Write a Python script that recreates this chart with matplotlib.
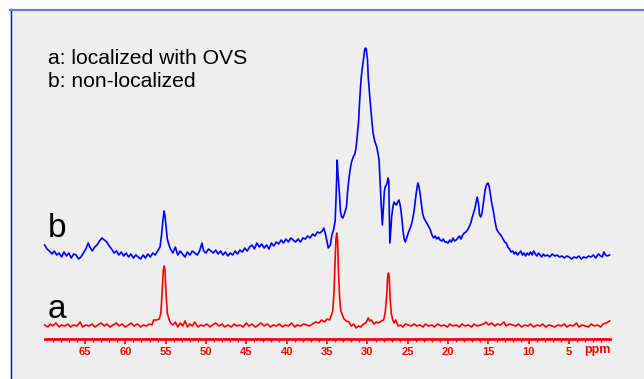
import numpy as np
import matplotlib
matplotlib.use("Agg")
import matplotlib.pyplot as plt
from matplotlib.patches import Rectangle
from matplotlib.lines import Line2D

plt.rcParams['font.family'] = ['Liberation Sans', 'DejaVu Sans']

# spectrum a: localized with OVS (chemical shift in ppm, height above the axis)
a_ppm = [70.0, 69.6, 69.3, 69.0, 68.6, 68.2, 67.9, 67.5, 67.1, 66.8, 66.4, 66.0, 65.6, 65.3, 64.9,
         64.5, 64.1, 63.8, 63.4, 63.0, 62.6, 62.3, 61.9, 61.5, 61.1, 60.8, 60.4, 60.0, 59.6, 59.3,
         58.9, 58.5, 58.1, 57.8, 57.4, 57.0, 56.7, 56.5, 56.1, 55.8, 55.6, 55.45, 55.3, 55.2, 55.1,
         54.95, 54.8, 54.6, 54.4, 54.1, 53.8, 53.5, 53.2, 52.9, 52.6, 52.3, 52.0, 51.7, 51.4, 51.0,
         50.7, 50.3, 49.9, 49.5, 49.2, 48.8, 48.4, 48.0, 47.7, 47.3, 46.9, 46.5, 46.2, 45.8, 45.4,
         45.0, 44.7, 44.3, 43.9, 43.5, 43.2, 42.8, 42.4, 42.0, 41.7, 41.3, 40.9, 40.5, 40.2, 39.8,
         39.4, 39.0, 38.7, 38.3, 37.9, 37.5, 37.2, 36.8, 36.4, 36.0, 35.7, 35.3, 35.0, 34.7, 34.5,
         34.3, 34.15, 34.0, 33.9, 33.8, 33.7, 33.6, 33.45, 33.3, 33.1, 32.9, 32.6, 32.3, 32.0, 31.7,
         31.4, 31.1, 30.8, 30.5, 30.2, 29.9, 29.7, 29.5, 29.2, 28.9, 28.6, 28.3, 28.0, 27.8, 27.6,
         27.5, 27.4, 27.3, 27.2, 27.05, 26.9, 26.7, 26.5, 26.2, 25.9, 25.6, 25.3, 24.9, 24.6, 24.2,
         23.9, 23.5, 23.1, 22.8, 22.4, 22.0, 21.7, 21.3, 20.9, 20.5, 20.1, 19.8, 19.4, 19.0, 18.6,
         18.3, 17.9, 17.5, 17.1, 16.8, 16.4, 16.0, 15.6, 15.3, 15.0, 14.6, 14.2, 13.9, 13.5, 13.1,
         12.8, 12.4, 12.0, 11.6, 11.3, 10.9, 10.5, 10.1, 9.8, 9.4, 9.0, 8.6, 8.3, 7.9, 7.5,
         7.1, 6.8, 6.4, 6.0, 5.6, 5.3, 4.9, 4.5, 4.1, 3.8, 3.4, 3.0, 2.6, 2.3, 1.9,
         1.5, 1.1, 0.8, 0.4, 0.0]
a_int = [14, 12, 15, 13, 16, 12, 14, 13, 15, 12, 14, 13, 17, 12, 14,
         13, 15, 12, 14, 16, 13, 15, 12, 14, 16, 13, 15, 12, 14, 16,
         13, 15, 12, 14, 13, 15, 14, 19, 19, 20, 26, 45, 68, 73, 70,
         45, 26, 20, 16, 14, 17, 12, 16, 13, 18, 12, 15, 13, 17, 12,
         14, 13, 15, 12, 14, 16, 13, 15, 12, 14, 12, 15, 13, 14, 12,
         16, 13, 15, 12, 14, 16, 13, 15, 12, 14, 13, 15, 12, 14, 13,
         16, 12, 14, 13, 15, 14, 13, 15, 17, 16, 19, 17, 20, 19, 23,
         28, 45, 80, 100, 106, 98, 70, 42, 28, 24, 20, 18, 17, 13, 15,
         11, 13, 12, 15, 16, 21, 18, 19, 15, 17, 16, 18, 19, 26, 45,
         62, 66, 62, 42, 26, 20, 16, 19, 13, 14, 12, 15, 14, 13, 15,
         13, 14, 12, 15, 13, 14, 12, 15, 13, 14, 12, 15, 13, 14, 12,
         15, 13, 14, 12, 15, 13, 14, 15, 17, 14, 16, 13, 15, 14, 17,
         13, 15, 14, 13, 15, 12, 14, 13, 15, 12, 14, 13, 15, 12, 14,
         13, 12, 14, 13, 15, 12, 14, 13, 16, 12, 14, 13, 12, 15, 13,
         14, 12, 15, 16, 18]

# spectrum b: non-localized
b_ppm = [70.0, 69.7, 69.4, 69.1, 68.8, 68.5, 68.2, 67.9, 67.6, 67.3, 67.0, 66.7, 66.4, 66.1, 65.8,
         65.5, 65.2, 64.9, 64.6, 64.4, 64.1, 63.8, 63.5, 63.2, 62.9, 62.6, 62.3, 62.0, 61.7, 61.4,
         61.1, 60.8, 60.5, 60.2, 59.9, 59.6, 59.3, 59.0, 58.7, 58.4, 58.1, 57.8, 57.5, 57.2, 56.9,
         56.6, 56.3, 56.0, 55.7, 55.5, 55.35, 55.2, 55.1, 54.95, 54.8, 54.6, 54.4, 54.1, 53.8, 53.5,
         53.2, 52.9, 52.6, 52.3, 52.0, 51.7, 51.4, 51.1, 50.8, 50.5, 50.3, 50.0, 49.7, 49.4, 49.1,
         48.8, 48.5, 48.2, 47.9, 47.6, 47.3, 47.0, 46.7, 46.4, 46.1, 45.8, 45.5, 45.2, 44.9, 44.6,
         44.3, 44.0, 43.7, 43.4, 43.1, 42.8, 42.5, 42.2, 41.9, 41.6, 41.3, 41.0, 40.7, 40.4, 40.1,
         39.8, 39.5, 39.2, 38.9, 38.6, 38.3, 38.0, 37.7, 37.4, 37.1, 36.8, 36.5, 36.2, 35.9, 35.6,
         35.4, 35.2, 35.0, 34.85, 34.6, 34.4, 34.2, 34.0, 33.85, 33.75, 33.65, 33.5, 33.35, 33.2, 33.05,
         32.9, 32.75, 32.6, 32.45, 32.3, 32.15, 32.0, 31.85, 31.7, 31.55, 31.4, 31.25, 31.1, 30.95, 30.8,
         30.65, 30.5, 30.35, 30.25, 30.15, 30.0, 29.9, 29.75, 29.6, 29.45, 29.3, 29.1, 28.85, 28.7, 28.56,
         28.44, 28.3, 28.15, 28.05, 27.9, 27.8, 27.6, 27.45, 27.35, 27.3, 27.22, 27.1, 27.0, 26.85, 26.7,
         26.55, 26.4, 26.25, 26.1, 25.95, 25.85, 25.7, 25.6, 25.45, 25.3, 25.1, 24.9, 24.7, 24.5, 24.35,
         24.2, 24.05, 23.9, 23.75, 23.6, 23.45, 23.3, 23.15, 23.0, 22.8, 22.65, 22.4, 22.2, 22.0, 21.8,
         21.6, 21.4, 21.2, 21.0, 20.8, 20.6, 20.4, 20.2, 20.0, 19.8, 19.6, 19.4, 19.2, 19.0, 18.8,
         18.6, 18.4, 18.2, 18.0, 17.8, 17.6, 17.4, 17.2, 17.0, 16.85, 16.7, 16.55, 16.4, 16.25, 16.1,
         15.95, 15.8, 15.6, 15.4, 15.2, 15.05, 14.9, 14.75, 14.6, 14.4, 14.2, 14.0, 13.8, 13.6, 13.4,
         13.2, 13.0, 12.8, 12.6, 12.4, 12.2, 12.0, 11.8, 11.6, 11.4, 11.2, 11.0, 10.8, 10.6, 10.4,
         10.2, 10.0, 9.8, 9.6, 9.4, 9.2, 9.0, 8.8, 8.6, 8.4, 8.2, 8.0, 7.7, 7.4, 7.1,
         6.8, 6.5, 6.2, 5.9, 5.6, 5.3, 5.0, 4.7, 4.4, 4.1, 3.8, 3.5, 3.2, 2.9, 2.6,
         2.3, 2.0, 1.7, 1.4, 1.1, 0.9, 0.7, 0.5, 0.3, 0.0]
b_int = [94, 90, 88, 85, 88, 84, 86, 82, 87, 83, 86, 81, 85, 84, 80,
         82, 86, 90, 96, 92, 88, 92, 94, 98, 101, 99, 97, 93, 90, 86,
         88, 84, 87, 83, 86, 82, 85, 81, 84, 82, 80, 84, 81, 85, 82,
         86, 84, 88, 92, 105, 118, 128, 124, 112, 100, 94, 90, 86, 92, 84,
         88, 85, 82, 87, 84, 88, 86, 84, 88, 96, 88, 86, 90, 88, 86,
         89, 85, 88, 84, 87, 83, 86, 84, 88, 85, 89, 87, 91, 88, 92,
         94, 90, 96, 92, 95, 91, 94, 90, 96, 93, 97, 95, 99, 96, 100,
         97, 101, 99, 97, 100, 97, 101, 100, 103, 101, 105, 103, 107, 106, 108,
         111, 105, 97, 91, 94, 104, 109, 118, 150, 179, 165, 149, 128, 122, 121,
         124, 128, 132, 148, 160, 169, 176, 180, 183, 185, 192, 205, 217, 240, 259,
         270, 279, 289, 291, 290, 280, 262, 246, 232, 218, 206, 198, 192, 186, 179,
         159, 135, 114, 128, 148, 152, 155, 161, 158, 130, 96, 110, 122, 132, 137,
         135, 134, 137, 139, 134, 129, 118, 109, 100, 97, 102, 107, 111, 116, 122,
         129, 140, 149, 156, 152, 144, 134, 125, 121, 118, 116, 112, 109, 104, 101,
         103, 100, 102, 99, 98, 100, 97, 97, 96, 99, 97, 101, 98, 99, 101,
         103, 100, 104, 106, 107, 109, 112, 116, 122, 126, 130, 136, 142, 136, 124,
         122, 126, 138, 150, 155, 156, 152, 144, 136, 128, 118, 110, 107, 105, 103,
         100, 97, 96, 92, 90, 87, 88, 85, 87, 84, 86, 88, 84, 86, 83,
         86, 84, 87, 84, 88, 85, 83, 86, 84, 82, 85, 83, 84, 82, 85,
         83, 84, 82, 83, 81, 83, 82, 80, 82, 81, 83, 80, 82, 81, 83,
         82, 84, 81, 85, 83, 82, 87, 84, 83, 84]

major_ticks = [65, 60, 55, 50, 45, 40, 35, 30, 25, 20, 15, 10, 5]
minor_ticks = list(range(1, 70))
ppm_start, ppm_end = 70, 0

W, H = 644, 379
fig = plt.figure(figsize=(W / 100, H / 100), dpi=100)
fig.patch.set_facecolor('white')

ax = fig.add_axes([0, 0, 1, 1])
ax.set_facecolor('none')
ax.set_xlim(75.53, -4.27)
ax.set_ylim(-40, 339)

# grey panel with blue frame on left and top (drawn in figure coordinates, below the data)
ax.add_patch(Rectangle((10 / W, 0), 1 - 10 / W, 1 - 9 / H, transform=fig.transFigure,
                       facecolor='#eeeeee', edgecolor='none', zorder=0))
ax.add_line(Line2D([10.5 / W, 10.5 / W], [0, 1 - 9 / H], transform=fig.transFigure,
                   color='#0000ff', lw=1.0, zorder=0.5))
ax.add_line(Line2D([10 / W, 1], [1 - 9.5 / H, 1 - 9.5 / H], transform=fig.transFigure,
                   color='#7272ee', lw=1.6, zorder=0.5))

ax.plot(b_ppm, b_int, color='#0000ff', lw=1.2, zorder=2)
ax.plot(a_ppm, a_int, color='#ff0000', lw=1.2, zorder=2)

for s in ['top', 'left', 'right']:
    ax.spines[s].set_visible(False)
sp = ax.spines['bottom']
sp.set_position(('data', 0))
sp.set_bounds(ppm_end, ppm_start)
sp.set_color('#ff0000')
sp.set_linewidth(2.0)
ax.set_yticks([])
ax.set_xticks(major_ticks)
ax.set_xticks(minor_ticks, minor=True)
ax.tick_params(axis='x', which='major', direction='out', length=3.5, width=1.2,
               color='#ff0000', labelcolor='#ff0000', labelsize=8, pad=2)
ax.tick_params(axis='x', which='minor', direction='out', length=2, width=0.9, color='#ff0000')
for lab in ax.get_xticklabels():
    lab.set_fontweight('bold')
ax.text(1.5, -11, 'ppm', color='#ff0000', fontsize=9, fontweight='bold', ha='center', va='center')

ax.text(0.0745, 1 - 64 / H, 'a: localized with OVS', transform=ax.transAxes, fontsize=15.2,
        ha='left', va='baseline')
ax.text(0.0745, 1 - 87 / H, 'b: non-localized', transform=ax.transAxes, fontsize=15.2,
        ha='left', va='baseline')
ax.text(0.0745, 1 - 237 / H, 'b', transform=ax.transAxes, fontsize=24, ha='left', va='baseline')
ax.text(0.0745, 1 - 318 / H, 'a', transform=ax.transAxes, fontsize=24, ha='left', va='baseline')

fig.savefig('out.png', dpi=100)
